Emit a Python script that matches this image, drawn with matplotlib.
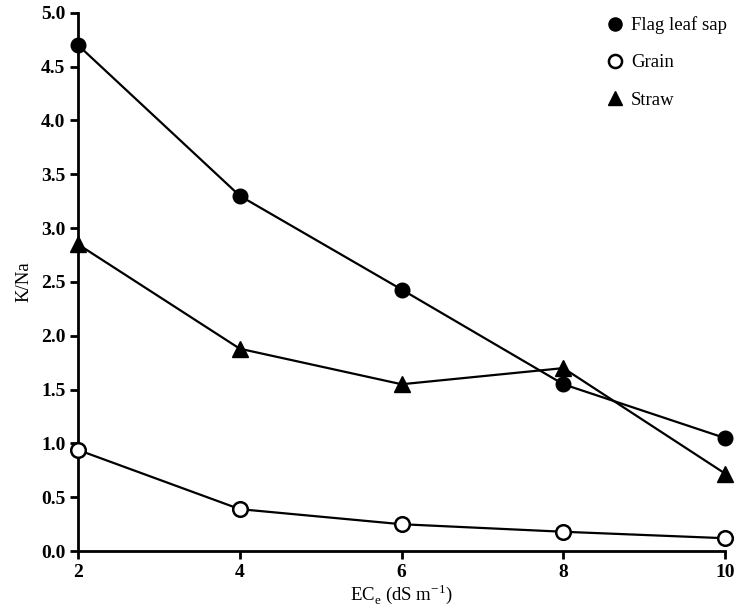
import matplotlib
matplotlib.use('Agg')
import matplotlib.pyplot as plt

plt.rcParams['font.family'] = ['Liberation Serif', 'DejaVu Serif']
plt.rcParams['mathtext.fontset'] = 'custom'
plt.rcParams['mathtext.rm'] = 'Liberation Serif'

# salinity levels and K/Na ratios
ec = [2, 4, 6, 8, 10]
flag_leaf_sap = [4.70, 3.30, 2.43, 1.55, 1.05]
grain = [0.94, 0.39, 0.25, 0.18, 0.12]
straw = [2.85, 1.88, 1.55, 1.70, 0.72]

fig = plt.figure(figsize=(7.43, 6.09), dpi=100)
ax = fig.add_axes([0.105, 0.095, 0.871, 0.884])

lw = 1.6
ax.plot(ec, flag_leaf_sap, '-o', color='black', lw=lw, ms=10.5,
        mfc='black', mec='black', label='Flag leaf sap', clip_on=False, zorder=3)
ax.plot(ec, grain, '-o', color='black', lw=lw, ms=10.5, mfc='white',
        mec='black', mew=1.8, label='Grain', clip_on=False, zorder=3)
ax.plot(ec, straw, '-^', color='black', lw=lw, ms=11.5,
        mfc='black', mec='black', label='Straw', clip_on=False, zorder=3)

ax.set_xlim(2, 10)
ax.set_ylim(0, 5)
ax.set_xticks(ec)
ax.set_yticks([i * 0.5 for i in range(11)])
ax.set_yticklabels([f'{i * 0.5:.1f}' for i in range(11)])

for s in ['top', 'right']:
    ax.spines[s].set_visible(False)
for s in ['left', 'bottom']:
    ax.spines[s].set_linewidth(2)
ax.tick_params(direction='out', length=6, width=2, labelsize=14, pad=3)
for lab in ax.get_xticklabels() + ax.get_yticklabels():
    lab.set_fontweight('bold')

ax.set_xlabel(r'EC$_\mathregular{e}$ (dS m$^{\mathregular{-1}}$)', fontsize=13.5, labelpad=1)
ax.set_ylabel('K/Na', fontsize=13.5, labelpad=6)

leg = ax.legend(loc='upper right', bbox_to_anchor=(1.029, 1.025), frameon=False,
                fontsize=13.5, handlelength=0, handletextpad=0.85, labelspacing=1.08,
                markerscale=0.9)

fig.savefig('out.png', dpi=100)
